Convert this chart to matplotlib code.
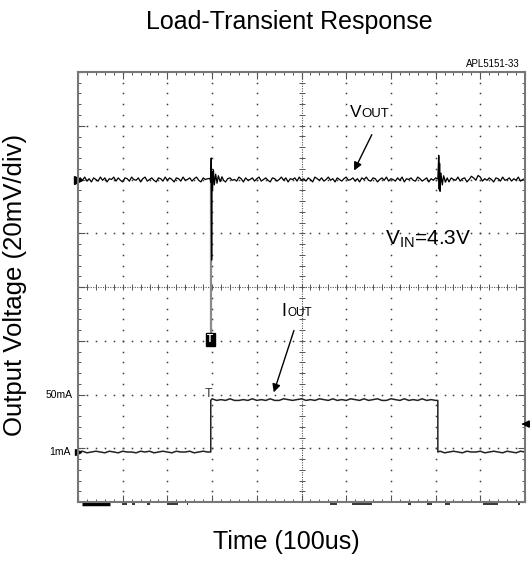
import matplotlib
matplotlib.use("Agg")
import matplotlib.pyplot as plt
from matplotlib.ticker import MultipleLocator
import numpy as np

plt.rcParams['font.family'] = ['Liberation Sans', 'DejaVu Sans']
plt.rcParams['mathtext.fontset'] = 'custom'
plt.rcParams['mathtext.rm'] = 'Liberation Sans'
plt.rcParams['mathtext.it'] = 'Liberation Sans'

# scope screen in divisions: 10 across, 8 high
sample_step = 0.05
noise_unit = 0.015

# VOUT trace (ch1), level in divisions, noise in noise units
vout_level = 6.0
vout_noise = [0, 2, -1, 3, -2, 1, -3, 2, 0, -2, 3, -1, 2, -3, 1, 0, 3, -2, 2, -1, -3, 2, 1, -2, 3, 0, -1, 2, -3, 1, 3, -2, 0, 2, -1, -3, 2, 1, -2, 3,
              -1, 2, 0, -3, 2, 1, -2, 3, -1, 0, 2, -2, 1, 3, -1, -3, 2, 0, 1, -2, 3, -1, 2, -2, 0, 3, -3, 1, 2, -1, 0, -2, 3, 1, -3, 2, -1, 0, 2, -2,
              1, 3, -2, 0, 2, -1, -3, 2, 1, -2, 0, 3, -1, 2, -3, 1, 0, 2, -2, 3, -1, 1, -2, 2, 0, -3, 3, 1, -1, 2, -2, 0, 3, -1, 1, -3, 2, 0, -2, 1,
              3, -1, 0, 2, -2, 1, -3, 2, 0, 3, -1, -2, 2, 1, -3, 0, 2, -1, 3, -2, 1, 0, -2, 2, -1, 3, -3, 1, 0, 2, -1, -2, 3, 1, -2, 0, 2, -3, 1, -1,
              2, 0, -2, 3, -1, 1, -3, 2, 0, -1, 3, -2, 1, 2, -3, 0, 4, 2, -1, 5, 3, -2, 1, -1, 2, 0, -3, 2, 1, -2, 3, -1, 0, 2, -2, 1, -1, 3, -2, 0, 1]

# load step (rising edge of IOUT)
spike1_t = [2.95, 2.97, 2.98, 2.99, 3.00, 3.01, 3.03, 3.05, 3.08, 3.11, 3.14, 3.18, 3.22, 3.26]
spike1_v = [6.02, 5.95, 6.40, 4.50, 6.15, 5.80, 6.18, 5.90, 6.10, 5.93, 6.07, 5.96, 6.05, 5.98]
# load release (falling edge of IOUT)
spike2_t = [8.05, 8.07, 8.08, 8.09, 8.10, 8.12, 8.15, 8.18, 8.22, 8.26]
spike2_v = [6.01, 6.45, 5.82, 6.30, 5.78, 6.12, 5.90, 6.07, 5.95, 6.03]

# IOUT trace (ch2)
iout_low = 0.93
iout_high = 1.89
iout_rise = 2.97
iout_fall = 8.05
iout_step = 0.1
iout_noise = [0, 1, -1, 0, 1, 0, -1, 1, 0, -1, 1, 0, 0, -1, 1, 0, 1, -1, 0, 1, 0, -1, 1, 0, 0, 1, -1, 0, 1, 0,
              2, 0, 1, 0, 2, 0, 0, 1, 0, 2, 0, 1, 0, 2, 0, 0, 2, 1, 0, 1,
              2, 0, 1, 0, 2, 1, 0, 2, 0, 1, 0, 2, 1, 0, 2, 0, 1, 2, 0, 0, 2, 1, 0, 2, 0, 1, 0, 2, 0, 1,
              0, 1, -1, 0, 1, 0, -1, 1, 0, 0, 1, -1, 0, 1, 0, -1, 1, 0, -1, 1, 0]

# cut-off scope readout under the screen (start, end in divisions)
readout_start = [0.08, 0.98, 1.20, 1.54, 1.98, 2.43, 5.64, 6.12, 7.39, 7.80, 8.21, 9.07, 9.85]
readout_end = [0.72, 1.09, 1.27, 1.61, 2.24, 2.47, 5.79, 6.57, 7.46, 7.91, 8.32, 9.40, 9.89]


# build VOUT
t_all = np.arange(len(vout_noise)) * sample_step
v_all = vout_level + np.array(vout_noise) * noise_unit
seg_a = t_all < 2.95
seg_b = (t_all >= 3.3) & (t_all < 8.05)
seg_c = t_all >= 8.3
vout_t = np.concatenate([t_all[seg_a], spike1_t, t_all[seg_b], spike2_t, t_all[seg_c]])
vout_v = np.concatenate([v_all[seg_a], spike1_v, v_all[seg_b], spike2_v, v_all[seg_c]])

# build IOUT
ti = np.arange(len(iout_noise)) * iout_step
on = (ti > iout_rise) & (ti < iout_fall)
vi = np.where(on, iout_high, iout_low) + np.array(iout_noise) * noise_unit
before = ti < iout_rise
after = ti > iout_fall
iout_t = np.concatenate([ti[before], [iout_rise, iout_rise], ti[on], [iout_fall, iout_fall], ti[after]])
iout_v = np.concatenate([vi[before], [iout_low, iout_high], vi[on], [iout_high, iout_low], vi[after]])


fig = plt.figure(figsize=(5.31, 5.65), dpi=100)
ax = fig.add_axes([78 / 531, 1 - 502 / 565, 447 / 531, 430 / 565])
ax.set_xlim(0, 10)
ax.set_ylim(0, 8)

# screen graticule
xs = np.arange(0, 10.001, 0.2)
ys = np.arange(0, 8.001, 0.2)
grid_col = '#3a3a3a'
for gx in [1, 2, 3, 4, 6, 7, 8, 9]:
    ax.plot(np.full_like(ys, gx), ys, ls='none', marker='s', ms=1.1, mew=0, color=grid_col)
for gy in [1, 2, 3, 5, 6, 7]:
    ax.plot(xs, np.full_like(xs, gy), ls='none', marker='s', ms=1.1, mew=0, color=grid_col)
ax.axhline(4, color='#555', lw=0.8, ls=(0, (1, 1.2)))
ax.axvline(5, color='#555', lw=0.8, ls=(0, (1, 1.2)))
ax.plot(xs, np.full_like(xs, 4), ls='none', marker='|', ms=4, mew=0.7, color='#555')
ax.plot(np.full_like(ys, 5), ys, ls='none', marker='_', ms=4, mew=0.7, color='#555')

ax.set_xticks(range(11))
ax.set_yticks(range(9))
ax.xaxis.set_minor_locator(MultipleLocator(0.2))
ax.yaxis.set_minor_locator(MultipleLocator(0.2))
ax.tick_params(which='both', direction='in', top=True, right=True,
               labelbottom=False, labelleft=False, color='#555')
ax.tick_params(which='major', length=5, width=0.8)
ax.tick_params(which='minor', length=2.5, width=0.7)
for s in ax.spines.values():
    s.set_color('#777')
    s.set_linewidth(1.5)

# traces
ax.plot([2.97, 2.97], [6.0, 3.1], color='#8a8a8a', lw=1.6)
ax.plot([8.08, 8.08], [6.40, 5.85], color='#999', lw=1.4)
ax.plot(vout_t, vout_v, color='black', lw=0.9)
ax.plot(iout_t, iout_v, color='#222', lw=1.1)

# trigger marks
ax.text(2.96, 3.03, 'T', color='white', fontsize=7, fontweight='bold', ha='center', va='center',
        bbox=dict(boxstyle='square,pad=0.15', fc='black', ec='black'))
ax.text(2.93, 1.90, 'T', fontsize=9, ha='center', va='bottom', color='#333')

# channel markers
ax.plot([0], [vout_level], marker='>', ms=6, color='black', clip_on=False)
ax.plot([0], [iout_low], marker='>', ms=5, color='black', clip_on=False)
ax.annotate('50mA', xy=(0, 1.99), xytext=(-4, 0), textcoords='offset points',
            ha='right', va='center', fontsize=7.5)
ax.annotate('1mA', xy=(0, iout_low), xytext=(-5, 0), textcoords='offset points',
            ha='right', va='center', fontsize=7.5)
ax.annotate('', xy=(9.86, 1.45), xytext=(10.05, 1.45), annotation_clip=False,
            arrowprops=dict(arrowstyle='-|>', color='black', lw=1.3, mutation_scale=10))

# readout fragments
for k, (a, b) in enumerate(zip(readout_start, readout_end)):
    ax.plot([a, b], [-0.045, -0.045], color='black', lw=2.5 if k == 0 else 1.1,
            solid_capstyle='butt', clip_on=False)

# labels on screen
ax.text(6.09, 7.16, 'V', fontsize=12.5, va='baseline')
ax.text(6.35, 7.16, 'OUT', fontsize=9.5, va='baseline')
ax.annotate('', xy=(6.15, 6.12), xytext=(6.60, 6.88),
            arrowprops=dict(arrowstyle='-|>', color='black', lw=1.0, mutation_scale=12))
ax.text(4.56, 3.46, 'I', fontsize=13, va='baseline')
ax.text(4.68, 3.46, 'OUT', fontsize=8.5, va='baseline')
ax.annotate('', xy=(4.36, 1.99), xytext=(4.85, 3.24),
            arrowprops=dict(arrowstyle='-|>', color='black', lw=1.0, mutation_scale=12))
ax.text(6.87, 4.78, r'$\mathregular{V_{IN}}$=4.3V', fontsize=15, va='baseline')
ax.text(0.989, 1.0116, 'APL5151-33', transform=ax.transAxes, fontsize=7, ha='right', va='baseline')

fig.text(0.544, 0.961, 'Load-Transient Response', fontsize=18, ha='center', va='center')
fig.text(0.539, 0.0407, 'Time (100us)', fontsize=18, ha='center', va='center')
fig.text(0.028, 0.496, 'Output Voltage (20mV/div)', fontsize=18.5, ha='center', va='center', rotation=90)

fig.savefig('out.png', dpi=100)
